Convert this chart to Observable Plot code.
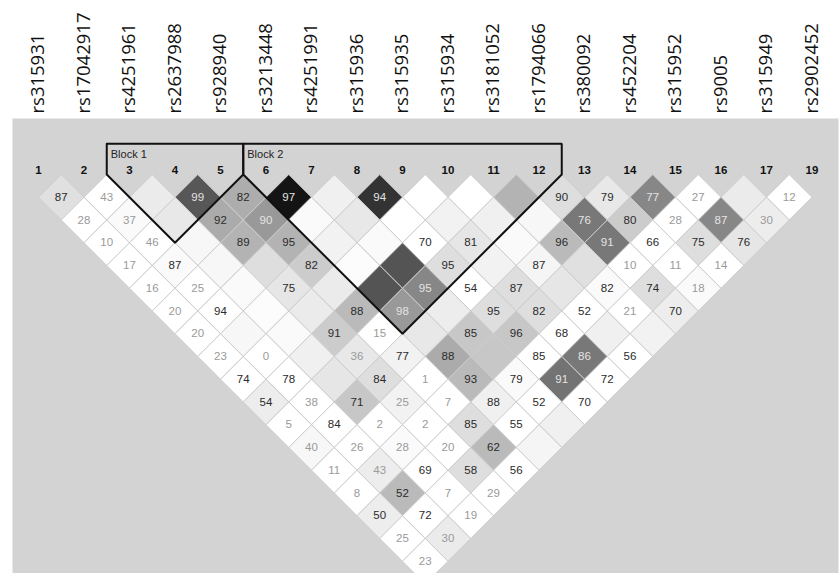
<!DOCTYPE html>
<html><head><meta charset="utf-8">
<script src="https://cdn.jsdelivr.net/npm/d3@7"></script>
<script src="https://cdn.jsdelivr.net/npm/@observablehq/plot@0.6"></script>
<style>
body{margin:0;background:#fff}
#chart svg{display:block}
</style>
</head><body><div id="chart"></div>
<script>
// SNP names (top labels) and Haploview marker numbers (18 was dropped)
const snpNames = ["rs315931","rs17042917","rs4251961","rs2637988","rs928940","rs3213448","rs4251991","rs315936","rs315935","rs315934","rs3181052","rs1794066","rs380092","rs452204","rs315952","rs9005","rs315949","rs2902452"];
const snpNumbers = ["1","2","3","4","5","6","7","8","9","10","11","12","13","14","15","16","17","19"];

// D' x100 shown in each cell, listed by marker distance (row k = j - i), starting at marker i = 0.
// null = D' of 1 (no number drawn)
const dprime = [
  [87, 43, null, 99, 82, 97, null, 94, null, null, null, 90, 79, 77, 27, null, 12],
  [28, 37, null, 92, 90, null, null, null, null, null, null, 76, 80, 28, 87, 30],
  [10, 46, null, 89, 95, null, null, 70, 81, null, 96, 91, 66, 75, 76],
  [17, 87, null, null, 82, null, null, 95, null, 87, null, 10, 11, 14],
  [16, 25, null, 75, null, null, 95, 54, 87, null, 82, 74, 18],
  [20, 94, null, null, 88, 98, null, 95, 82, 52, 21, 70],
  [20, null, null, 91, 15, null, 85, 96, 68, null, null],
  [23, 0, null, 36, 77, 88, null, 85, 86, 56],
  [74, 78, null, 84, 1, 93, 79, 91, 72],
  [54, 38, 71, 25, 7, 88, 52, 70],
  [5, 84, 2, 2, 85, 55, null],
  [40, 26, 28, 20, 62, null],
  [11, 43, 69, 58, 56],
  [8, 52, 7, 29],
  [50, 72, 19],
  [25, 30],
  [23]
];

// r² (grey shade of each cell, 0 = white, 1 = black), same layout as dprime
const r2 = [
  [0.12, 0, 0.08, 0.66, 0.32, 0.92, 0.06, 0.8, 0, 0, 0.3, 0.13, 0.09, 0.47, 0, 0.08, 0],
  [0, 0.02, 0.09, 0.33, 0.4, 0.02, 0.09, 0, 0.05, 0.06, 0.03, 0.53, 0.2, 0, 0.47, 0.07],
  [0, 0, 0.03, 0.3, 0.3, 0.05, 0.02, 0, 0.1, 0.02, 0.27, 0.53, 0, 0.13, 0.1],
  [0, 0.02, 0.03, 0.13, 0.2, 0.01, 0.67, 0.13, 0.05, 0.04, 0.12, 0, 0, 0],
  [0, 0, 0.02, 0.1, 0.08, 0.67, 0.47, 0, 0.13, 0.1, 0.02, 0.13, 0.02],
  [0, 0, 0.01, 0.08, 0.27, 0.4, 0.07, 0.13, 0.13, 0, 0, 0.07],
  [0, 0.03, 0.02, 0.2, 0, 0.09, 0.22, 0.22, 0, 0.06, 0.05],
  [0, 0, 0.06, 0.09, 0.05, 0.33, 0.22, 0, 0.53, 0],
  [0, 0, 0.1, 0.13, 0, 0.27, 0.02, 0.55, 0],
  [0.07, 0, 0.22, 0.05, 0, 0.06, 0, 0],
  [0, 0, 0, 0, 0.13, 0, 0.06],
  [0.03, 0, 0.02, 0, 0.27, 0.04],
  [0, 0.07, 0, 0.13, 0],
  [0, 0.27, 0, 0],
  [0.07, 0, 0],
  [0, 0.08],
  [0]
];

// haplotype blocks (marker indices, inclusive)
const blockNames = ["Block 1", "Block 2"];
const blockStart = [2, 5];
const blockEnd = [4, 11];

// ---- build tables ----
const cells = [];
dprime.forEach((row, k) => row.forEach((v, i) => {
  const j = i + k + 1;
  cells.push({i, j, x: (i + j) / 2, y: j - i, d: v, r2: r2[k][i]});
}));
const numbered = cells.filter(c => c.d !== null);
const snps = snpNames.map((name, i) => ({i, name, num: snpNumbers[i]}));

const blockTop = -1.35;
const blockPts = [];
blockNames.forEach((name, b) => {
  const a = blockStart[b], e = blockEnd[b];
  [[a - 0.5, blockTop], [a - 0.5, 0], [(a + e) / 2, e - a + 1], [e + 0.5, 0], [e + 0.5, blockTop], [a - 0.5, blockTop]]
    .forEach(([x, y]) => blockPts.push({name, x, y}));
});
const blockLabels = blockNames.map((name, b) => ({name, x: blockStart[b] - 0.5}));

// ---- layout: marker step 45.5px, row step 22.75px ----
const W = 840, H = 573, mL = 12, mR = 2, mT = 118, mB = 0;
const x0 = 38, step = 45.5, y0 = 174, rowStep = 22.75;
const xDomain = [(mL - x0) / step, (W - mR - x0) / step];
const yDomain = [(mT - y0) / rowStep, (H - mB - y0) / rowStep];
const numFont = "Liberation Sans, Arial, sans-serif";

const chart = Plot.plot({
  width: W, height: H,
  marginLeft: mL, marginRight: mR, marginTop: mT, marginBottom: mB,
  x: {domain: xDomain, axis: null},
  y: {domain: yDomain, reverse: true, axis: null},
  color: {type: "linear", domain: [0, 1], range: ["#ffffff", "#000000"], interpolate: "rgb"},
  style: {background: "#ffffff", overflow: "visible"},
  marks: [
    Plot.frame({fill: "#d3d3d3", stroke: null}),
    Plot.dot(cells, {x: "x", y: "y", symbol: "diamond2", r: 20.5, fill: "r2", stroke: "#cdcdcd", strokeWidth: 1}),
    Plot.text(numbered.filter(c => c.r2 >= 0.38), {x: "x", y: "y", text: "d", fill: "#e4e4e4", fontSize: 11.5, fontFamily: numFont}),
    Plot.text(numbered.filter(c => c.r2 < 0.38 && c.d >= 50), {x: "x", y: "y", text: "d", fill: "#2b2b2b", fontSize: 11.5, fontFamily: numFont}),
    Plot.text(numbered.filter(c => c.r2 < 0.38 && c.d < 50), {x: "x", y: "y", text: "d", fill: "#9a9a9a", fontSize: 11.5, fontFamily: numFont}),
    Plot.line(blockPts, {x: "x", y: "y", z: "name", stroke: "#111", strokeWidth: 2, strokeLinejoin: "miter", curve: "linear"}),
    Plot.text(blockLabels, {x: "x", y: -0.87, text: "name", textAnchor: "start", dx: 4, fontSize: 11, fontFamily: numFont, fill: "#222"}),
    Plot.text(snps, {x: "i", y: -0.18, text: "num", fontSize: 11.5, fontWeight: "bold", fontFamily: numFont, fill: "#111"}),
    Plot.text(snps, {x: "i", y: (113 - y0) / rowStep, text: "name", rotate: -90, textAnchor: "start", fontSize: 18.5, fontFamily: "Open Sans, sans-serif", fill: "#111"})
  ]
});
document.getElementById("chart").append(chart);
</script>
</body></html>
